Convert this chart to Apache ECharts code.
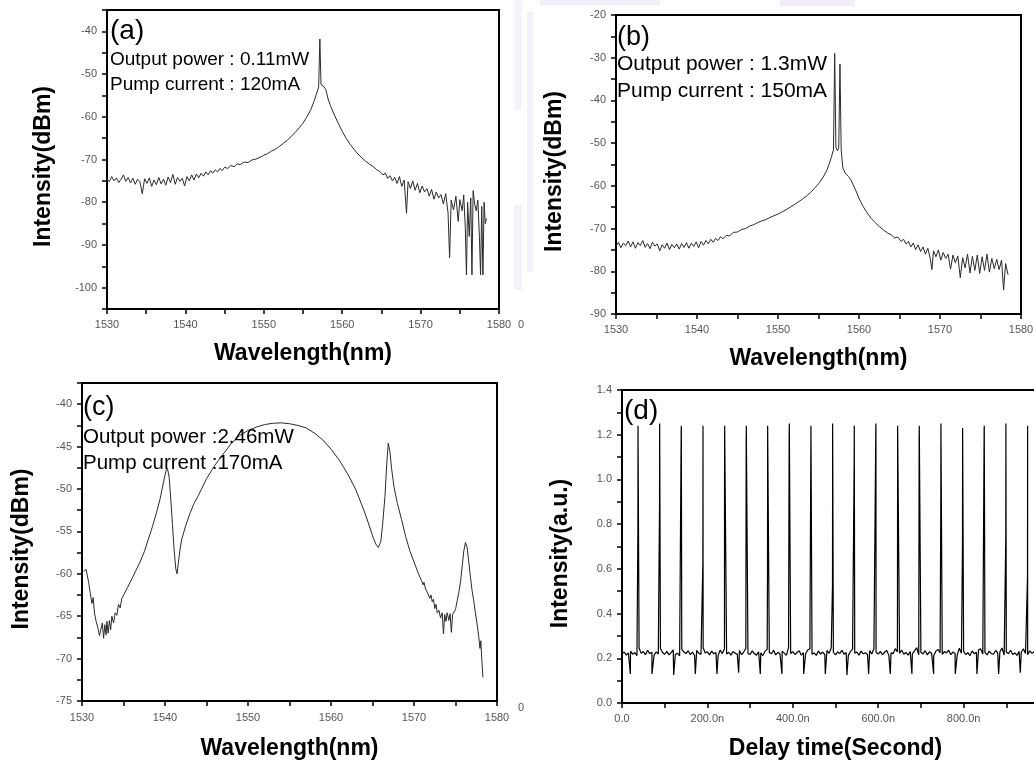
<!DOCTYPE html>
<html><head><meta charset="utf-8">
<script src="https://cdn.jsdelivr.net/npm/echarts@6/dist/echarts.min.js"></script>
<style>html,body{margin:0;padding:0;background:#fff}#c{width:1034px;height:763px}</style>
</head><body><div id="c"></div>
<script>
// ---------- data ----------
// (a) spectrum: [wavelength nm, intensity dBm]
const spectrumA = [[1530.0,-74.5],[1530.3,-75.2],[1530.6,-74.0],[1530.9,-75.0],[1531.2,-74.3],[1531.5,-75.4],[1531.8,-74.6],[1532.1,-73.6],[1532.4,-75.1],[1532.7,-74.2],[1533.0,-75.5],[1533.3,-74.4],[1533.6,-75.8],[1533.9,-74.6],[1534.2,-75.2],[1534.5,-78.0],[1534.8,-74.5],[1535.1,-75.6],[1535.4,-74.3],[1535.7,-76.3],[1536.0,-74.8],[1536.3,-75.9],[1536.6,-74.2],[1536.9,-75.7],[1537.2,-74.6],[1537.5,-76.0],[1537.8,-74.1],[1538.1,-75.4],[1538.4,-73.5],[1538.7,-75.8],[1539.0,-74.2],[1539.3,-75.1],[1539.6,-74.4],[1539.9,-76.2],[1540.2,-74.0],[1540.5,-75.0],[1540.8,-73.6],[1541.1,-74.8],[1541.4,-73.4],[1541.7,-74.3],[1542.0,-73.2],[1542.3,-73.9],[1542.6,-72.9],[1542.9,-73.6],[1543.2,-72.6],[1543.5,-73.2],[1543.8,-72.4],[1544.1,-72.9],[1544.4,-72.1],[1544.7,-72.6],[1545.0,-71.8],[1545.4,-72.1],[1545.8,-71.4],[1546.2,-71.7],[1546.6,-71.0],[1547.0,-71.2],[1547.5,-70.6],[1548.0,-70.7],[1548.5,-70.1],[1549.0,-69.9],[1549.5,-69.5],[1550.0,-69.0],[1550.5,-68.6],[1551.0,-68.0],[1551.5,-67.6],[1552.0,-66.9],[1552.5,-66.2],[1553.0,-65.5],[1553.5,-64.6],[1554.0,-63.7],[1554.5,-62.6],[1555.0,-61.5],[1555.5,-60.0],[1556.0,-58.3],[1556.4,-56.4],[1556.7,-54.8],[1557.0,-53.0],[1557.15,-41.8],[1557.3,-52.5],[1557.6,-52.8],[1557.9,-53.6],[1558.2,-55.8],[1558.5,-57.4],[1559.0,-59.6],[1559.5,-61.5],[1560.0,-63.4],[1560.5,-65.0],[1561.0,-66.4],[1561.5,-67.6],[1562.0,-68.7],[1562.5,-69.6],[1563.0,-70.4],[1563.5,-71.1],[1564.0,-71.7],[1564.4,-72.4],[1564.8,-72.8],[1565.2,-73.6],[1565.5,-73.2],[1565.8,-74.4],[1566.1,-73.8],[1566.4,-75.0],[1566.7,-74.2],[1567.0,-75.6],[1567.3,-74.0],[1567.6,-76.3],[1567.9,-74.8],[1568.2,-82.6],[1568.4,-75.2],[1568.7,-76.8],[1569.0,-75.0],[1569.3,-77.2],[1569.6,-75.6],[1569.9,-77.8],[1570.2,-76.2],[1570.5,-77.6],[1570.8,-76.8],[1571.1,-78.6],[1571.4,-77.0],[1571.7,-79.3],[1572.0,-77.6],[1572.3,-79.0],[1572.6,-78.2],[1572.9,-80.4],[1573.2,-78.0],[1573.5,-82.5],[1573.7,-93.0],[1573.9,-79.5],[1574.2,-81.8],[1574.5,-78.6],[1574.8,-84.5],[1575.0,-79.4],[1575.3,-82.0],[1575.5,-78.3],[1575.7,-86.0],[1575.85,-97.0],[1576.0,-80.0],[1576.2,-88.0],[1576.4,-79.0],[1576.55,-97.0],[1576.7,-77.3],[1576.9,-80.5],[1577.1,-82.0],[1577.3,-79.5],[1577.5,-88.0],[1577.65,-97.0],[1577.8,-81.0],[1577.95,-97.0],[1578.1,-80.0],[1578.25,-85.0],[1578.4,-83.8]];

// (b) spectrum
const spectrumB = [[1530.0,-74.2],[1530.3,-73.2],[1530.6,-74.5],[1530.9,-73.4],[1531.2,-74.0],[1531.5,-72.9],[1531.8,-74.3],[1532.1,-73.1],[1532.4,-74.6],[1532.7,-73.3],[1533.0,-74.0],[1533.3,-72.8],[1533.6,-74.4],[1533.9,-73.5],[1534.2,-74.7],[1534.5,-73.2],[1534.8,-74.1],[1535.1,-73.6],[1535.4,-75.2],[1535.7,-73.8],[1536.0,-74.6],[1536.3,-73.4],[1536.6,-74.9],[1536.9,-73.7],[1537.2,-74.5],[1537.5,-73.6],[1537.8,-74.8],[1538.1,-73.5],[1538.4,-74.4],[1538.7,-73.3],[1539.0,-74.6],[1539.3,-73.4],[1539.6,-74.2],[1539.9,-73.1],[1540.2,-74.5],[1540.5,-73.0],[1540.8,-73.9],[1541.1,-72.8],[1541.4,-73.6],[1541.7,-72.5],[1542.0,-73.2],[1542.3,-72.3],[1542.6,-72.8],[1542.9,-71.9],[1543.2,-72.4],[1543.6,-71.6],[1544.0,-71.7],[1544.5,-70.9],[1545.0,-70.8],[1545.5,-70.2],[1546.0,-70.0],[1546.5,-69.4],[1547.0,-69.1],[1547.5,-68.6],[1548.0,-68.2],[1548.5,-67.9],[1549.0,-67.4],[1549.5,-67.0],[1550.0,-66.6],[1550.5,-66.1],[1551.0,-65.6],[1551.5,-65.0],[1552.0,-64.4],[1552.5,-63.8],[1553.0,-63.1],[1553.5,-62.4],[1554.0,-61.6],[1554.5,-60.6],[1555.0,-59.5],[1555.5,-58.2],[1556.0,-56.5],[1556.3,-55.0],[1556.6,-53.2],[1556.85,-51.5],[1557.0,-29.0],[1557.15,-51.0],[1557.35,-51.8],[1557.5,-51.0],[1557.65,-31.5],[1557.8,-51.5],[1558.0,-55.8],[1558.3,-57.0],[1558.7,-57.8],[1559.0,-58.6],[1559.5,-60.6],[1560.0,-62.9],[1560.5,-64.8],[1561.0,-66.3],[1561.5,-67.6],[1562.0,-68.6],[1562.5,-69.5],[1563.0,-70.3],[1563.5,-71.0],[1564.0,-71.5],[1564.4,-72.2],[1564.8,-72.0],[1565.2,-73.0],[1565.5,-72.5],[1565.8,-73.6],[1566.1,-73.0],[1566.4,-74.3],[1566.7,-73.4],[1567.0,-74.9],[1567.3,-73.8],[1567.6,-75.4],[1567.9,-74.3],[1568.2,-76.0],[1568.5,-74.6],[1568.8,-77.0],[1569.0,-79.6],[1569.2,-75.2],[1569.5,-76.6],[1569.8,-75.0],[1570.1,-77.4],[1570.4,-75.6],[1570.7,-77.0],[1571.0,-76.0],[1571.3,-79.5],[1571.6,-76.2],[1571.9,-78.0],[1572.2,-76.4],[1572.5,-81.5],[1572.8,-76.8],[1573.1,-79.2],[1573.4,-76.0],[1573.7,-80.4],[1574.0,-76.5],[1574.3,-79.8],[1574.6,-76.2],[1574.9,-80.5],[1575.2,-76.6],[1575.5,-79.8],[1575.8,-76.0],[1576.1,-80.2],[1576.4,-77.0],[1576.7,-79.4],[1577.0,-77.2],[1577.3,-79.6],[1577.6,-77.4],[1577.85,-84.4],[1578.1,-78.2],[1578.4,-80.8]];

// (c) spectrum
const spectrumC = [[1530.2,-59.7],[1530.5,-59.5],[1530.8,-61.0],[1531.0,-62.3],[1531.2,-63.5],[1531.35,-62.8],[1531.5,-64.6],[1531.7,-65.6],[1531.9,-66.3],[1532.1,-67.3],[1532.3,-67.5],[1532.45,-65.8],[1532.6,-67.6],[1532.75,-66.0],[1532.9,-67.2],[1533.0,-65.6],[1533.15,-67.0],[1533.3,-65.5],[1533.45,-66.6],[1533.6,-65.0],[1533.8,-65.8],[1534.0,-64.6],[1534.2,-64.9],[1534.4,-63.6],[1534.6,-64.0],[1534.8,-62.9],[1535.0,-62.7],[1535.5,-61.6],[1536.0,-60.6],[1536.5,-59.6],[1537.0,-58.6],[1537.5,-57.4],[1538.0,-55.9],[1538.5,-54.4],[1539.0,-52.7],[1539.4,-51.2],[1539.8,-49.3],[1540.1,-47.9],[1540.3,-47.6],[1540.5,-48.6],[1540.7,-51.2],[1540.9,-54.2],[1541.1,-57.2],[1541.3,-59.4],[1541.45,-60.0],[1541.6,-58.8],[1541.8,-57.2],[1542.0,-56.0],[1542.5,-54.3],[1543.0,-52.9],[1543.5,-51.7],[1544.0,-50.8],[1545.0,-48.8],[1546.0,-47.2],[1547.0,-45.9],[1548.0,-44.6],[1549.0,-43.7],[1550.0,-43.1],[1551.0,-42.7],[1552.0,-42.4],[1553.0,-42.25],[1554.0,-42.2],[1555.0,-42.3],[1556.0,-42.5],[1557.0,-42.8],[1558.0,-43.4],[1559.0,-44.2],[1560.0,-45.3],[1561.0,-46.6],[1562.0,-48.2],[1563.0,-50.1],[1564.0,-52.6],[1564.5,-54.0],[1565.0,-55.5],[1565.4,-56.5],[1565.7,-56.9],[1566.0,-56.2],[1566.2,-54.4],[1566.5,-50.9],[1566.75,-46.5],[1566.9,-44.6],[1567.1,-45.6],[1567.3,-47.6],[1567.6,-49.8],[1568.0,-51.7],[1568.5,-53.6],[1569.0,-55.6],[1569.5,-57.3],[1570.0,-58.6],[1570.5,-59.9],[1570.9,-60.8],[1571.1,-61.3],[1571.2,-61.0],[1571.4,-61.8],[1571.7,-62.4],[1571.9,-62.9],[1572.05,-62.5],[1572.2,-63.3],[1572.35,-63.0],[1572.5,-64.1],[1572.65,-63.6],[1572.8,-64.6],[1573.0,-64.3],[1573.2,-65.2],[1573.4,-64.6],[1573.55,-67.1],[1573.7,-64.8],[1573.85,-65.6],[1574.0,-64.6],[1574.2,-65.5],[1574.35,-64.7],[1574.5,-66.9],[1574.65,-64.8],[1574.8,-65.0],[1575.0,-64.2],[1575.2,-63.2],[1575.4,-62.2],[1575.6,-61.0],[1575.8,-59.2],[1576.0,-57.3],[1576.2,-56.3],[1576.4,-56.9],[1576.6,-58.6],[1576.8,-60.4],[1577.0,-62.0],[1577.2,-63.2],[1577.4,-64.6],[1577.6,-65.9],[1577.8,-67.4],[1577.95,-68.8],[1578.05,-67.9],[1578.15,-69.8],[1578.3,-72.2]];

// (d) pulse train (time in ns, intensity a.u.)
const pulseTimes = [37.5,88.2,138.9,189.7,240.4,291.1,341.1,391.8,442.5,493.3,544.0,594.7,645.5,696.2,746.9,797.7,848.4,899.1,949.9];
const pulsePeaks = [1.24,1.25,1.24,1.24,1.24,1.24,1.24,1.25,1.24,1.25,1.24,1.25,1.24,1.24,1.25,1.23,1.24,1.25,1.24];
const pulseEdges = [0.77,0.88,1.22,0.63,0.97,1.15,0.60,1.20,1.11,0.53,1.08,1.22,0.50,1.18,0.90,0.71,1.22,0.74,0.56];
const dipTimes = [19.5,70.2,121.0,171.7,222.4,273.2,323.9,374.6,425.4,476.1,526.8,577.6,628.3,679.0,729.8,780.5,831.2,882.0,932.7];
const dipLows = [0.13,0.13,0.125,0.13,0.13,0.135,0.13,0.13,0.13,0.13,0.125,0.13,0.13,0.13,0.13,0.13,0.13,0.13,0.135];
const baselineStep = 5;
const baseline = [
0.220,0.228,0.214,0.224,0.232,0.218,0.226,0.212,0.246,0.222,
0.230,0.216,0.236,0.221,0.227,0.213,0.229,0.219,0.244,0.226,
0.218,0.231,0.215,0.225,0.238,0.217,0.223,0.211,0.241,0.228,
0.221,0.234,0.216,0.228,0.213,0.236,0.222,0.218,0.247,0.224,
0.229,0.215,0.232,0.220,0.226,0.212,0.237,0.221,0.243,0.219,
0.227,0.214,0.230,0.223,0.218,0.235,0.216,0.228,0.245,0.222,
0.217,0.233,0.221,0.214,0.229,0.224,0.212,0.231,0.240,0.226,
0.220,0.236,0.215,0.227,0.219,0.232,0.223,0.213,0.248,0.221,
0.230,0.217,0.226,0.234,0.214,0.225,0.220,0.237,0.242,0.218,
0.224,0.213,0.233,0.219,0.228,0.216,0.235,0.222,0.246,0.227,
0.215,0.229,0.221,0.236,0.218,0.226,0.212,0.230,0.241,0.223,
0.228,0.214,0.232,0.220,0.225,0.217,0.234,0.219,0.244,0.226,
0.219,0.231,0.216,0.227,0.235,0.213,0.224,0.221,0.243,0.229,
0.222,0.237,0.218,0.226,0.214,0.230,0.220,0.233,0.247,0.216,
0.227,0.219,0.234,0.215,0.229,0.223,0.211,0.232,0.240,0.225,
0.218,0.230,0.224,0.236,0.216,0.228,0.221,0.214,0.245,0.222,
0.231,0.217,0.225,0.212,0.233,0.220,0.227,0.238,0.242,0.219,
0.226,0.215,0.232,0.221,0.218,0.235,0.223,0.229,0.246,0.214,
0.228,0.220,0.236,0.217,0.224,0.213,0.231,0.226,0.243,0.221,
0.216,0.233,0.222,0.229,0.214,0.227,0.237,0.219,0.244,0.225,
0.223];

// tick label texts / annotation texts
const panelLetters = ['(a)','(b)','(c)','(d)'];
const powerTexts = ['Output power : 0.11mW','Output power : 1.3mW','Output power :2.46mW'];
const currentTexts = ['Pump current : 120mA','Pump current : 150mA','Pump current :170mA'];
const xNames = ['Wavelength(nm)','Wavelength(nm)','Wavelength(nm)','Delay time(Second)'];
const yNames = ['Intensity(dBm)','Intensity(dBm)','Intensity(dBm)','Intensity(a.u.)'];

// ---------- build (d) trace ----------
const traceD = [];
baseline.forEach((v, i) => traceD.push([i * baselineStep, v]));
pulseTimes.forEach((t, i) => { traceD.push([t - 0.3, pulseEdges[i]]); traceD.push([t, pulsePeaks[i]]); });
dipTimes.forEach((t, i) => traceD.push([t, dipLows[i]]));
traceD.sort((a, b) => a[0] - b[0]);

// ---------- chart ----------
const FONT = '"Liberation Sans", Arial, sans-serif';
const chart = echarts.init(document.getElementById('c'), null, {renderer: 'canvas'});

const isMult = (v, m) => Math.abs(v / m - Math.round(v / m)) < 1e-6;

function xAxisCfg(gi, min, max, interval, labelEvery, fmt, nameGap, margin) {
  return {
    type: 'value', gridIndex: gi, min, max, interval,
    name: xNames[gi], nameLocation: 'middle', nameGap,
    nameTextStyle: {fontFamily: FONT, fontWeight: 'bold', fontSize: 23, color: '#000'},
    axisLine: {show: true, onZero: false, lineStyle: {color: '#000', width: 2}},
    axisTick: {show: true, inside: false, length: 5, lineStyle: {color: '#000', width: 1.5}},
    splitLine: {show: false},
    axisLabel: {fontFamily: FONT, fontSize: 11, color: '#555', margin,
      formatter: v => isMult(v, labelEvery) ? fmt(v) : ''}
  };
}
function yAxisCfg(gi, min, max, interval, labelEvery, fmt, nameGap) {
  return {
    type: 'value', gridIndex: gi, min, max, interval,
    name: yNames[gi], nameLocation: 'middle', nameGap,
    nameTextStyle: {fontFamily: FONT, fontWeight: 'bold', fontSize: 23, color: '#000', padding: [0, 14, 0, 0]},
    axisLine: {show: true, onZero: false, lineStyle: {color: '#000', width: 2}},
    axisTick: {show: true, inside: false, length: 5, lineStyle: {color: '#000', width: 1.5}},
    splitLine: {show: false},
    axisLabel: {fontFamily: FONT, fontSize: 11, color: '#555', margin: 10,
      formatter: v => isMult(v, labelEvery) ? fmt(v) : ''}
  };
}
const nmFmt = v => String(Math.round(v));
const dbFmt = v => String(Math.round(v));

const gridBase = {show: true, borderColor: '#000', borderWidth: 2, backgroundColor: 'transparent',
  containLabel: false, outerBoundsMode: 'none'};

const txt = (x, y, text, size) => ({type: 'text', x, y, z: 100,
  style: {text, fontFamily: FONT, fontSize: size, fill: '#000', align: 'left', verticalAlign: 'middle'}});
const smudge = (x, y, w, h, c) => ({type: 'rect', z: -1, shape: {x, y, width: w, height: h}, style: {fill: c}});

chart.setOption({
  animation: false,
  backgroundColor: '#fff',
  grid: [
    Object.assign({left: 107, top: 10, width: 392, height: 299}, gridBase),
    Object.assign({left: 616, top: 15, width: 405, height: 299}, gridBase),
    Object.assign({left: 82, top: 383, width: 415, height: 318}, gridBase),
    Object.assign({left: 622, top: 390, width: 427, height: 313}, gridBase)
  ],
  xAxis: [
    xAxisCfg(0, 1530, 1580, 5, 10, nmFmt, 33, 10),
    xAxisCfg(1, 1530, 1580, 5, 10, nmFmt, 33, 10),
    xAxisCfg(2, 1530, 1580, 5, 10, nmFmt, 36, 11),
    xAxisCfg(3, 0, 1000, 100, 200, v => (v >= 1000 ? '' : (v === 0 ? '0.0' : v.toFixed(1) + 'n')), 34, 10)
  ],
  yAxis: [
    yAxisCfg(0, -105, -35, 5, 10, dbFmt, 52),
    yAxisCfg(1, -90, -20, 5, 10, dbFmt, 49.5),
    yAxisCfg(2, -75, -37.5, 2.5, 5, dbFmt, 48.5),
    yAxisCfg(3, 0, 1.4, 0.1, 0.2, v => v.toFixed(1), 49.5)
  ],
  series: [
    {type: 'line', xAxisIndex: 0, yAxisIndex: 0, data: spectrumA, showSymbol: false, silent: true, lineStyle: {color: '#2a2a2a', width: 1}},
    {type: 'line', xAxisIndex: 1, yAxisIndex: 1, data: spectrumB, showSymbol: false, silent: true, lineStyle: {color: '#2a2a2a', width: 1}},
    {type: 'line', xAxisIndex: 2, yAxisIndex: 2, data: spectrumC, showSymbol: false, silent: true, lineStyle: {color: '#2a2a2a', width: 1}},
    {type: 'line', xAxisIndex: 3, yAxisIndex: 3, data: traceD, showSymbol: false, silent: true, lineStyle: {color: '#000', width: 1.2}}
  ],
  graphic: [
    smudge(540, 0, 120, 5, '#f3eff8'),
    smudge(780, 0, 75, 6, '#f1ecf7'),
    smudge(514, 0, 8, 110, '#f6f3fa'),
    smudge(514, 205, 8, 85, '#f5f1f9'),
    smudge(527, 12, 6, 260, '#f4f0f9'),
    txt(110, 31, panelLetters[0], 28),
    txt(110, 60, powerTexts[0], 19),
    txt(110, 85, currentTexts[0], 19),
    txt(617, 37.5, panelLetters[1], 27),
    txt(617, 64, powerTexts[1], 21),
    txt(617, 91, currentTexts[1], 21),
    txt(83, 408, panelLetters[2], 27),
    txt(83, 437, powerTexts[2], 20.5),
    txt(83, 463, currentTexts[2], 20.5),
    txt(624, 411.5, panelLetters[3], 28),
    {type: 'text', x: 518, y: 325, style: {text: '0', fontFamily: FONT, fontSize: 11, fill: '#555', verticalAlign: 'middle'}},
    {type: 'text', x: 518, y: 708, style: {text: '0', fontFamily: FONT, fontSize: 11, fill: '#555', verticalAlign: 'middle'}}
  ]
});
</script>
</body></html>
